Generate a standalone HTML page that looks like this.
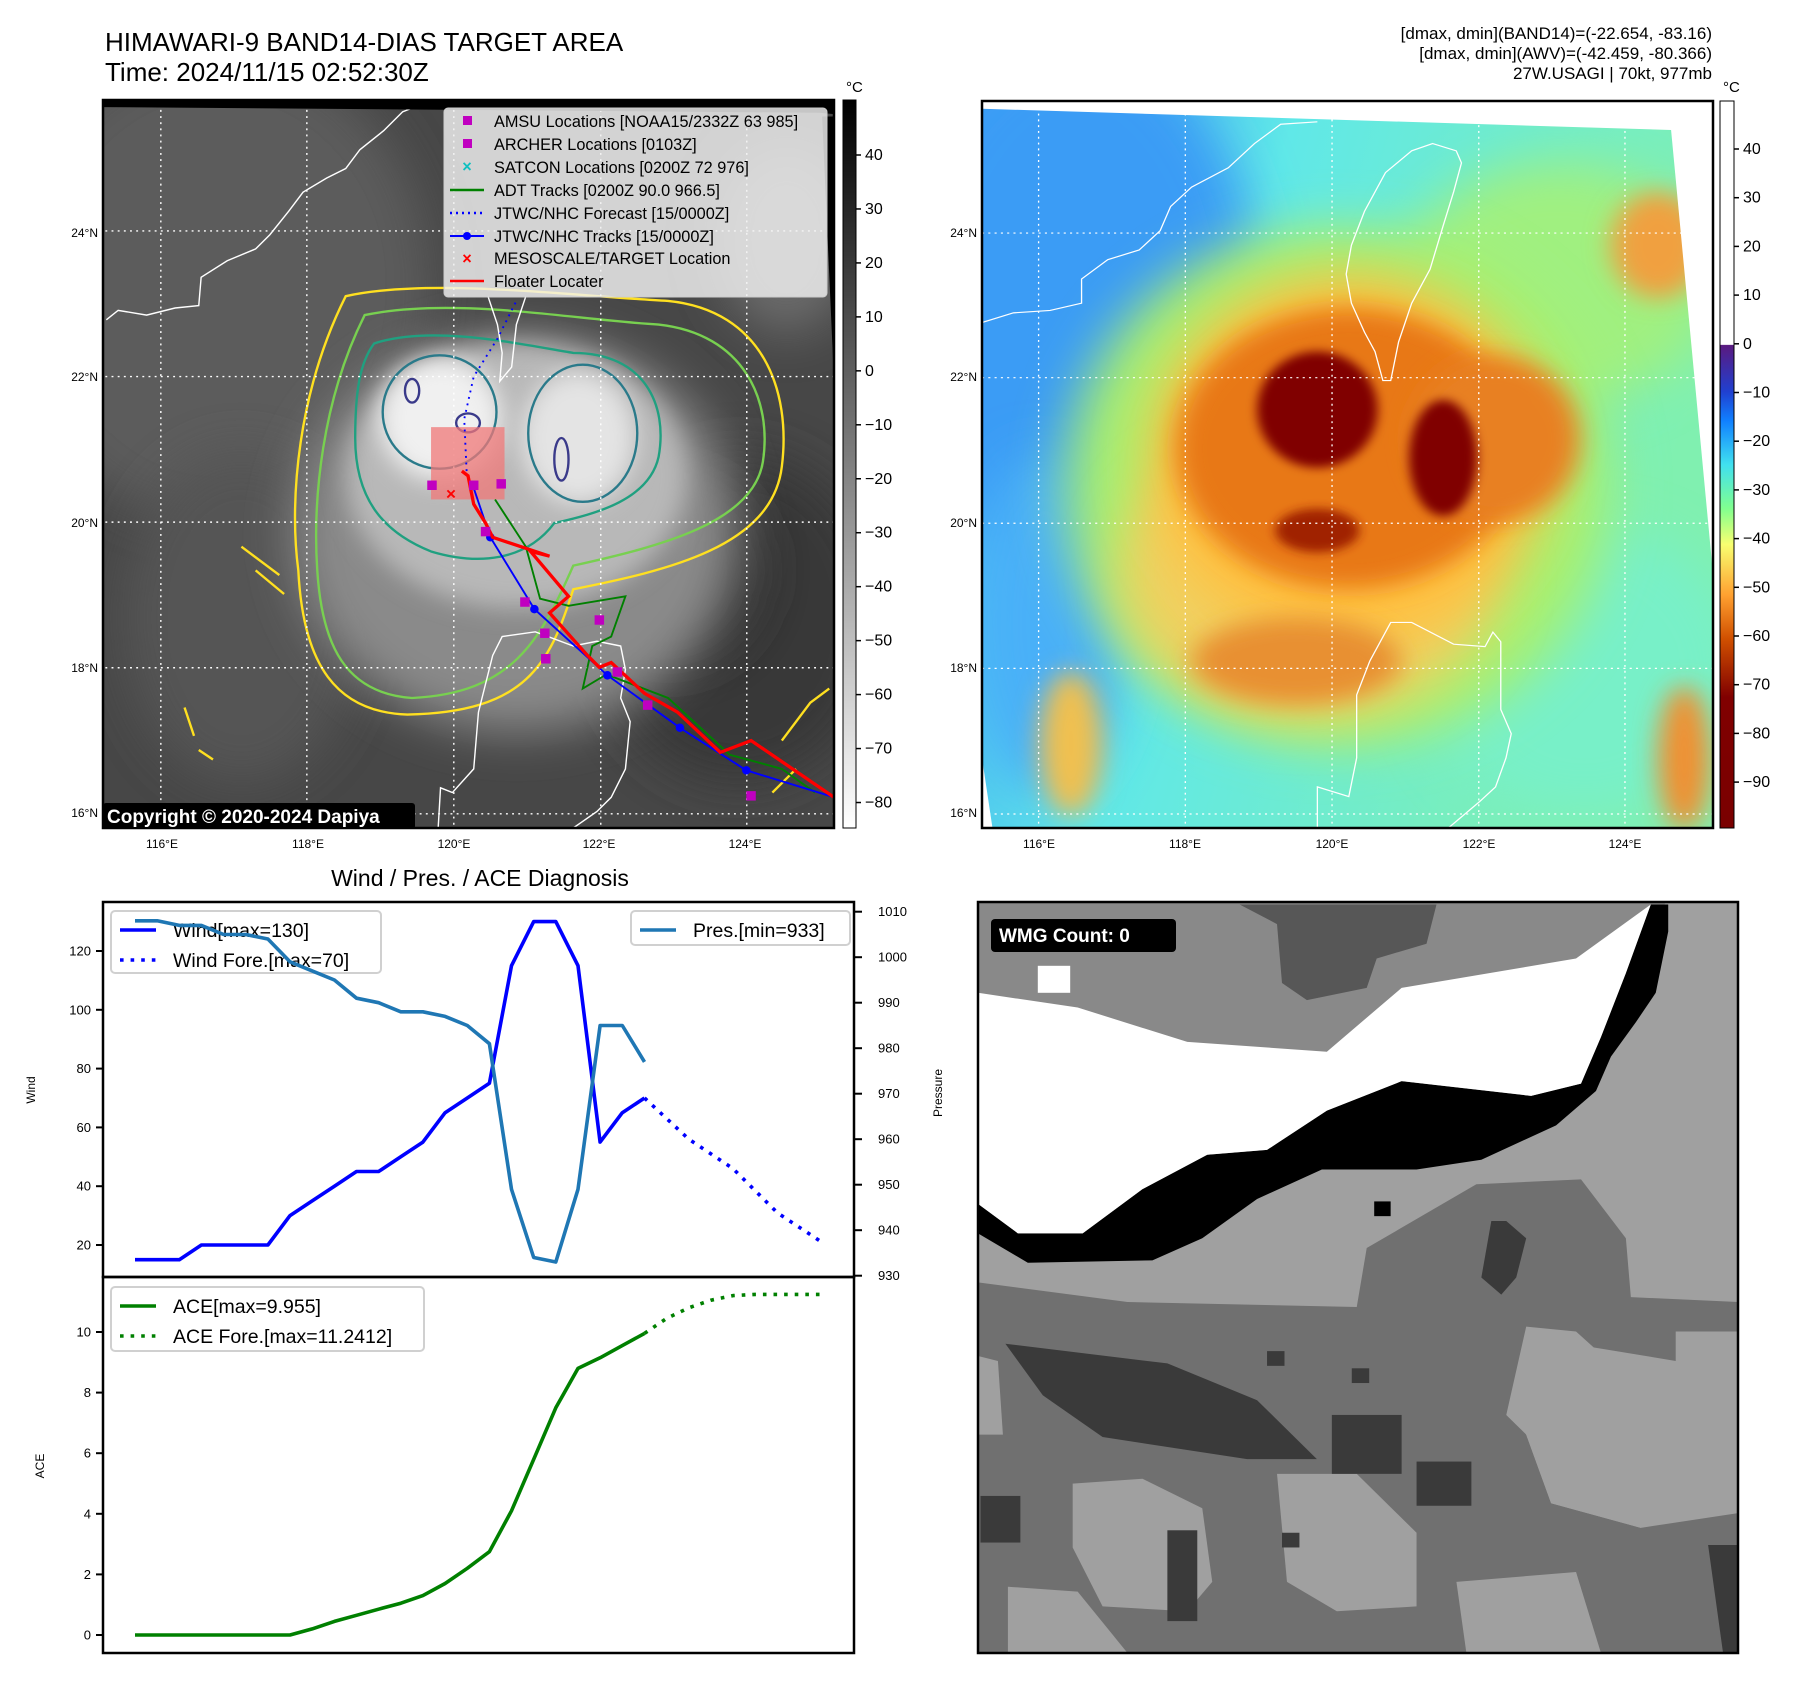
<!DOCTYPE html>
<html><head><meta charset="utf-8"><style>
html,body{margin:0;padding:0;background:#fff;}
svg{display:block;}
text{font-family:"Liberation Sans","DejaVu Sans",sans-serif;}
</style></head><body>
<svg id="fig" xmlns="http://www.w3.org/2000/svg" width="1797" height="1690" viewBox="0 0 1797 1690">
<defs>
  <filter id="b10" x="-50%" y="-50%" width="200%" height="200%"><feGaussianBlur stdDeviation="10"/></filter>
  <filter id="b25" x="-50%" y="-50%" width="200%" height="200%"><feGaussianBlur stdDeviation="25"/></filter>
  <filter id="b50" x="-50%" y="-50%" width="200%" height="200%"><feGaussianBlur stdDeviation="50"/></filter>
  <linearGradient id="cb1" x1="0" y1="0" x2="0" y2="1"><stop offset="0" stop-color="#000"/><stop offset="1" stop-color="#fff"/></linearGradient>
  <linearGradient id="cb2" x1="0" y1="0" x2="0" y2="1">
    <stop offset="0" stop-color="#fff"/><stop offset="0.335" stop-color="#fff"/>
    <stop offset="0.336" stop-color="#5a1a80"/><stop offset="0.40" stop-color="#2040d0"/>
    <stop offset="0.44" stop-color="#1080ff"/><stop offset="0.50" stop-color="#40e0f0"/>
    <stop offset="0.56" stop-color="#80ff90"/><stop offset="0.61" stop-color="#f8ff70"/>
    <stop offset="0.68" stop-color="#ffa030"/><stop offset="0.74" stop-color="#d05000"/>
    <stop offset="0.82" stop-color="#800000"/><stop offset="1" stop-color="#7a0000"/>
  </linearGradient>
  <linearGradient id="bg2" x1="0" y1="0" x2="1" y2="0.3"><stop offset="0" stop-color="#3aa0f5"/><stop offset="0.4" stop-color="#60e8e8"/><stop offset="1" stop-color="#80f0b0"/></linearGradient>
  <clipPath id="c1"><rect x="8" y="5" width="1542" height="1540"/></clipPath>
  <clipPath id="c2"><rect x="0" y="22" width="1395" height="1503"/></clipPath>
</defs>

<!-- Titles -->
<text x="105" y="51" font-size="26">HIMAWARI-9 BAND14-DIAS TARGET AREA</text>
<text x="105" y="81" font-size="26">Time: 2024/11/15 02:52:30Z</text>
<g font-size="17" text-anchor="end">
<text x="1712" y="39">[dmax, dmin](BAND14)=(-22.654, -83.16)</text>
<text x="1712" y="59">[dmax, dmin](AWV)=(-42.459, -80.366)</text>
<text x="1712" y="79">27W.USAGI | 70kt, 977mb</text>
</g>

<!-- MAP 1 -->
<svg x="103" y="100" width="731" height="728" viewBox="8 5 1542 1540" preserveAspectRatio="none">
 <g clip-path="url(#c1)">
  <rect x="0" y="0" width="1600" height="1600" fill="#474747"/>
  <ellipse cx="250" cy="400" rx="450" ry="500" fill="#5c5c5c" filter="url(#b50)"/>
  <ellipse cx="300" cy="1100" rx="250" ry="350" fill="#555" filter="url(#b50)"/>
  <ellipse cx="1350" cy="1100" rx="300" ry="350" fill="#383838" filter="url(#b50)"/>
  <ellipse cx="1200" cy="1000" rx="200" ry="200" fill="#333" filter="url(#b50)"/>
  <ellipse cx="1450" cy="300" rx="150" ry="200" fill="#6a6a6a" filter="url(#b50)"/>
  <ellipse cx="880" cy="920" rx="470" ry="420" fill="#8a8a8a" filter="url(#b50)"/>
  <ellipse cx="880" cy="800" rx="360" ry="280" fill="#b8b8b8" filter="url(#b25)"/>
  <ellipse cx="720" cy="680" rx="130" ry="130" fill="#f0f0f0" filter="url(#b25)"/>
  <ellipse cx="1010" cy="720" rx="120" ry="140" fill="#e4e4e4" filter="url(#b25)"/>
  <g fill="none" stroke-width="5">
   <path d="M520,420 C700,380 1000,420 1200,430 C1400,450 1460,620 1440,780 C1420,950 1200,1000 1000,1040 C950,1200 900,1300 650,1305 C500,1300 430,1200 420,1000 C400,850 420,620 520,420Z" stroke="#ffe020"/>
   <path d="M560,460 C750,420 1000,470 1180,480 C1360,500 1420,640 1400,770 C1380,900 1180,950 1000,990 C930,1150 870,1260 660,1270 C520,1260 470,1160 460,1000 C450,850 470,640 560,460Z" stroke="#78d050"/>
   <path d="M580,520 C700,480 880,520 1000,540 C1150,540 1200,650 1180,760 C1160,850 1050,880 960,900 C900,980 800,990 700,960 C600,920 540,850 540,720 C540,620 550,560 580,520Z" stroke="#20a080"/>
   <ellipse cx="718" cy="665" rx="120" ry="120" stroke="#2a7a8a"/>
   <ellipse cx="1020" cy="710" rx="115" ry="145" stroke="#2a7a8a"/>
   <ellipse cx="778" cy="688" rx="25" ry="20" stroke="#3a3a8a"/>
   <ellipse cx="975" cy="765" rx="15" ry="45" stroke="#3a3a8a"/>
   <ellipse cx="660" cy="620" rx="15" ry="25" stroke="#3a3a8a"/>
   <path d="M180,1290 l20,60 M210,1380 l30,20 M300,950 l80,60 M330,1000 l60,50" stroke="#ffe020"/>
   <path d="M1440,1360 l60,-80 l40,-30 M1420,1470 l50,-50" stroke="#ffe020"/>
  </g>
  <g fill="none" stroke="#fff" stroke-width="3">
   <polyline points="15,470 40,450 100,460 160,445 210,440 215,380 270,345 330,320 360,290 400,240 430,200 480,170 520,150 550,110 600,70 640,30 690,10"/>
   <polyline points="820,420 840,480 850,540 845,600 870,570 880,480 900,420"/>
   <polyline points="715,1545 720,1460 745,1470 790,1420 800,1300 830,1180 850,1140 920,1130 1000,1160 1050,1150 1100,1160 1110,1210 1100,1270 1120,1320 1110,1420 1080,1480 1050,1510 1000,1545"/>
  </g>
  <g stroke="#fff" stroke-width="3" stroke-dasharray="4,9">
   <line x1="130" y1="0" x2="130" y2="1550"/><line x1="438" y1="0" x2="438" y2="1550"/><line x1="748" y1="0" x2="748" y2="1550"/><line x1="1058" y1="0" x2="1058" y2="1550"/><line x1="1366" y1="0" x2="1366" y2="1550"/>
   <line x1="0" y1="282" x2="1560" y2="282"/><line x1="0" y1="590" x2="1560" y2="590"/><line x1="0" y1="898" x2="1560" y2="898"/><line x1="0" y1="1206" x2="1560" y2="1206"/><line x1="0" y1="1515" x2="1560" y2="1515"/>
  </g>
  <rect x="700" y="697" width="155" height="153" fill="#f07878" opacity="0.75"/>
  <polyline points="835,850 900,950 930,1060 990,1075 1110,1055 1080,1140 1040,1160 1020,1250 1070,1220 1200,1270 1330,1390 1440,1420 1510,1470" fill="none" stroke="#008000" stroke-width="4"/>
  <polyline points="775,790 770,680 790,590 840,510 880,430" fill="none" stroke="#0000ff" stroke-width="4" stroke-dasharray="4,10"/>
  <polyline points="788,820 825,930 918,1082 1072,1222 1225,1333 1365,1423 1550,1480" fill="none" stroke="#0000ff" stroke-width="4"/>
  <g fill="#0000ff"><circle cx="788" cy="820" r="9"/><circle cx="825" cy="930" r="9"/><circle cx="918" cy="1082" r="9"/><circle cx="1072" cy="1222" r="9"/><circle cx="1225" cy="1333" r="9"/><circle cx="1365" cy="1423" r="9"/></g>
  <polyline points="765,790 778,800 790,860 815,900 830,930 950,970 910,960 990,1055 950,1090 1030,1180 1055,1205 1080,1195 1150,1260 1220,1300 1310,1385 1375,1360 1550,1480" fill="none" stroke="#ff0000" stroke-width="7"/>
  <g fill="#c000c0">
   <rect x="692" y="810" width="20" height="20"/><rect x="780" y="810" width="20" height="20"/><rect x="838" y="807" width="20" height="20"/><rect x="805" y="908" width="20" height="20"/><rect x="888" y="1057" width="20" height="20"/><rect x="930" y="1123" width="20" height="20"/><rect x="932" y="1177" width="20" height="20"/><rect x="1045" y="1095" width="20" height="20"/><rect x="1083" y="1205" width="20" height="20"/><rect x="1147" y="1275" width="20" height="20"/><rect x="1365" y="1467" width="20" height="20"/>
  </g>
  <text x="742" y="850" font-size="36" fill="#ff0000" text-anchor="middle" font-weight="bold">×</text>
  <polygon points="0,0 1600,0 1600,40 1520,32 8,20" fill="#000"/>
  <polygon points="1525,40 1600,40 1600,1600 1550,600" fill="#000"/>
 </g>
</svg>
<rect x="103" y="100" width="731" height="728" fill="none" stroke="#000" stroke-width="2.5"/>

<g>
<rect x="444" y="108" width="383" height="189" rx="4" fill="#f2f2f2" fill-opacity="0.82" stroke="#ccc"/>
<g font-size="16.3" fill="#000">
<rect x="463" y="116" width="9" height="9" fill="#c000c0"/><text x="494" y="127">AMSU Locations [NOAA15/2332Z 63 985]</text>
<rect x="463" y="139" width="9" height="9" fill="#c000c0"/><text x="494" y="150">ARCHER Locations [0103Z]</text>
<text x="467" y="172" fill="#10c0c0" text-anchor="middle" font-weight="bold">×</text><text x="494" y="173">SATCON Locations [0200Z 72 976]</text>
<line x1="450" y1="190" x2="484" y2="190" stroke="#008000" stroke-width="2.5"/><text x="494" y="196">ADT Tracks [0200Z 90.0 966.5]</text>
<line x1="450" y1="213" x2="484" y2="213" stroke="#0000ff" stroke-width="2.5" stroke-dasharray="2,4"/><text x="494" y="219">JTWC/NHC Forecast [15/0000Z]</text>
<line x1="450" y1="236" x2="484" y2="236" stroke="#0000ff" stroke-width="2"/><circle cx="467" cy="236" r="4" fill="#0000ff"/><text x="494" y="242">JTWC/NHC Tracks [15/0000Z]</text>
<text x="467" y="264" fill="#ff0000" text-anchor="middle" font-weight="bold">×</text><text x="494" y="264">MESOSCALE/TARGET Location</text>
<line x1="450" y1="281" x2="484" y2="281" stroke="#ff0000" stroke-width="2.5"/><text x="494" y="287">Floater Locater</text>
</g></g>
<rect x="103" y="803" width="312" height="26" rx="3" fill="#000"/>
<text x="107" y="823" font-size="19" font-weight="bold" fill="#fff">Copyright © 2020-2024 Dapiya</text>

<rect x="843" y="100" width="13" height="728" fill="url(#cb1)" stroke="#000" stroke-width="1"/>
<text x="846" y="92" font-size="15">°C</text>
<g id="cb1ticks" font-size="16"></g>

<!-- MAP 2 -->
<svg x="982" y="101" width="731" height="727" viewBox="0 22 1395 1503" preserveAspectRatio="none">
 <g clip-path="url(#c2)">
  <rect x="0" y="0" width="1400" height="1600" fill="url(#bg2)"/>
  <ellipse cx="180" cy="450" rx="350" ry="550" fill="#3a9cf5" filter="url(#b50)"/>
  <ellipse cx="120" cy="1100" rx="150" ry="350" fill="#4ab0f8" filter="url(#b50)"/>
  <ellipse cx="1150" cy="1200" rx="300" ry="300" fill="#78f0c8" filter="url(#b50)"/>
  <ellipse cx="1100" cy="400" rx="300" ry="250" fill="#a0f080" filter="url(#b50)"/>
  <ellipse cx="1290" cy="320" rx="90" ry="110" fill="#f0a040" filter="url(#b25)"/>
  <ellipse cx="1340" cy="1380" rx="50" ry="150" fill="#f09030" filter="url(#b25)"/>
  <ellipse cx="170" cy="1350" rx="60" ry="150" fill="#f0c050" filter="url(#b25)"/>
  <ellipse cx="680" cy="820" rx="520" ry="540" fill="#a8f070" filter="url(#b50)"/>
  <ellipse cx="620" cy="1000" rx="360" ry="300" fill="#f0d060" filter="url(#b50)"/>
  <ellipse cx="700" cy="760" rx="380" ry="380" fill="#ffc040" filter="url(#b50)"/>
  <ellipse cx="700" cy="740" rx="330" ry="290" fill="#e87818" filter="url(#b25)"/>
  <ellipse cx="980" cy="720" rx="160" ry="170" fill="#e88020" filter="url(#b25)"/>
  <ellipse cx="600" cy="1180" rx="200" ry="90" fill="#e89030" filter="url(#b25)"/>
  <ellipse cx="640" cy="660" rx="115" ry="120" fill="#800000" filter="url(#b10)"/>
  <ellipse cx="880" cy="760" rx="65" ry="120" fill="#800000" filter="url(#b10)"/>
  <ellipse cx="640" cy="910" rx="80" ry="45" fill="#a02000" filter="url(#b10)"/>
  <g fill="none" stroke="#fff" stroke-width="2.5">
   <polyline points="0,480 60,460 130,455 190,440 190,390 240,350 300,330 340,290 360,240 400,200 470,160 520,110 570,70 640,65"/>
   <polygon points="860,110 905,125 915,150 900,210 880,280 855,370 820,440 795,520 780,600 765,600 750,540 730,500 705,440 695,380 705,320 730,250 770,170 820,125"/>
   <polyline points="640,1525 640,1440 700,1460 715,1380 715,1250 740,1180 780,1100 820,1100 900,1145 960,1150 975,1120 990,1140 990,1280 1010,1330 1000,1380 980,1440 950,1470 890,1525"/>
  </g>
  <g stroke="#fff" stroke-width="2.5" stroke-dasharray="4,8">
   <line x1="108" y1="0" x2="108" y2="1600"/><line x1="388" y1="0" x2="388" y2="1600"/><line x1="668" y1="0" x2="668" y2="1600"/><line x1="948" y1="0" x2="948" y2="1600"/><line x1="1227" y1="0" x2="1227" y2="1600"/>
   <line x1="0" y1="295" x2="1400" y2="295"/><line x1="0" y1="594" x2="1400" y2="594"/><line x1="0" y1="895" x2="1400" y2="895"/><line x1="0" y1="1195" x2="1400" y2="1195"/><line x1="0" y1="1496" x2="1400" y2="1496"/>
  </g>
  <polygon points="0,0 1400,0 1400,82 1315,82 0,38" fill="#fff"/>
  <polygon points="1315,82 1400,82 1400,1600 1395,1000" fill="#fff"/>
  <polygon points="0,1380 20,1525 0,1525" fill="#fff"/>
 </g>
</svg>
<rect x="982" y="101" width="731" height="727" fill="none" stroke="#000" stroke-width="2.5"/>

<rect x="1720" y="101" width="14" height="727" fill="url(#cb2)" stroke="#000" stroke-width="1"/>
<text x="1723" y="92" font-size="15">°C</text>
<g id="cb2ticks" font-size="16"></g>

<g font-size="12">
<g text-anchor="end">
<text x="98" y="237">24°N</text><text x="98" y="381">22°N</text><text x="98" y="527">20°N</text><text x="98" y="672">18°N</text><text x="98" y="817">16°N</text>
<text x="977" y="237">24°N</text><text x="977" y="381">22°N</text><text x="977" y="527">20°N</text><text x="977" y="672">18°N</text><text x="977" y="817">16°N</text>
</g>
<g text-anchor="middle">
<text x="162" y="848">116°E</text><text x="308" y="848">118°E</text><text x="454" y="848">120°E</text><text x="599" y="848">122°E</text><text x="745" y="848">124°E</text>
<text x="1039" y="848">116°E</text><text x="1185" y="848">118°E</text><text x="1332" y="848">120°E</text><text x="1479" y="848">122°E</text><text x="1625" y="848">124°E</text>
</g></g>

<!-- Lower right WMG image -->
<svg x="978" y="902" width="760" height="751" viewBox="0 15 1525 1530" preserveAspectRatio="none">
 <rect x="0" y="0" width="1530" height="1560" fill="#a0a0a0"/>
 <polygon points="0,15 1380,15 1300,200 1200,330 600,340 0,330" fill="#898989"/>
 <polygon points="525,20 920,20 900,100 800,130 780,190 660,215 610,180 600,60" fill="#575757"/>
 <polygon points="0,790 300,830 760,840 780,720 1000,590 1210,580 1300,700 1310,820 1525,830 1525,890 1400,890 1400,950 1260,945 1200,890 1100,880 1060,1060 1100,1100 1150,1240 1330,1290 1525,1260 1525,1545 0,1545" fill="#707070"/>
 <g fill="#a0a0a0">
  <polygon points="190,1200 330,1190 450,1250 470,1400 420,1460 250,1450 190,1330"/>
  <polygon points="60,1410 200,1420 300,1545 60,1545"/>
  <polygon points="600,1180 760,1180 880,1300 880,1450 720,1460 620,1400"/>
  <polygon points="1100,900 1400,950 1330,1290 1150,1240 1100,1100"/>
  <polygon points="0,940 40,950 50,1100 0,1100"/>
  <polygon points="960,1400 1200,1380 1250,1545 980,1545"/>
 </g>
 <g fill="#3a3a3a">
  <polygon points="55,915 380,955 560,1030 680,1150 540,1150 250,1105 130,1020"/>
  <rect x="880" y="1155" width="110" height="90"/>
  <rect x="710" y="1060" width="140" height="120"/>
  <rect x="5" y="1225" width="80" height="95"/>
  <rect x="380" y="1295" width="60" height="185"/>
  <polygon points="1465,1325 1525,1325 1525,1545 1495,1545"/>
  <polygon points="1030,665 1060,665 1100,700 1080,780 1050,815 1010,780"/>
  <rect x="580" y="930" width="35" height="30"/><rect x="750" y="965" width="35" height="30"/><rect x="610" y="1300" width="35" height="30"/>
 </g>
 <polygon points="1350,20 1385,20 1385,75 1360,200 1320,260 1270,330 1240,400 1160,470 1010,540 880,560 690,560 560,620 450,700 350,745 100,750 0,690 0,630 80,690 210,690 330,600 460,530 580,520 700,440 850,380 1110,410 1210,385 1250,290 1300,160" fill="#000"/>
 <polygon points="0,200 200,230 420,300 700,320 850,190 1200,130 1350,20 1300,160 1250,290 1210,385 1110,410 850,380 700,440 580,520 460,530 330,600 210,690 80,690 0,630" fill="#fff"/>
 <rect x="120" y="145" width="65" height="55" fill="#fff"/>
 <rect x="795" y="625" width="33" height="30" fill="#000"/>
</svg>
<rect x="978" y="902" width="760" height="751" fill="none" stroke="#000" stroke-width="2.5"/>
<rect x="991" y="919" width="185" height="33" rx="4" fill="#000"/>
<text x="999" y="942" font-size="19" font-weight="bold" fill="#fff">WMG Count: 0</text>

<text x="480" y="886" font-size="23" text-anchor="middle">Wind / Pres. / ACE Diagnosis</text>
<g id="charts"></g>
</svg>

<script>
const windIdx = [0,1,2,3,4,5,6,7,8,9,10,11,12,13,14,15,16,17,18,19,20,21,22,23];
const windVals = [15,15,15,20,20,20,20,30,35,40,45,45,50,55,65,70,75,115,130,130,115,55,65,70];
const windFcstIdx = [23,25,27,29,31];
const windFcstVals = [70,56,46,31,21];
const presVals = [1008,1008,1007,1007,1005,1005,1004,999,997,995,991,990,988,988,987,985,981,949,934,933,949,985,985,977];
const aceVals = [0,0,0,0,0,0,0,0,0.2,0.45,0.65,0.85,1.05,1.3,1.7,2.2,2.75,4.1,5.8,7.5,8.8,9.15,9.55,9.955];
const aceFcstIdx = [23,24,25,26,27,28,31];
const aceFcstVals = [9.955,10.45,10.8,11.05,11.2,11.24,11.24];
const windTicks = [20,40,60,80,100,120];
const presTicks = [930,940,950,960,970,980,990,1000,1010];
const aceTicks = [0,2,4,6,8,10];
const cb1Ticks = [40,30,20,10,0,-10,-20,-30,-40,-50,-60,-70,-80];
const cb2Ticks = [40,30,20,10,0,-10,-20,-30,-40,-50,-60,-70,-80,-90];

const NS='http://www.w3.org/2000/svg';
const X0=103, X1=854, WT=902, WB=1277, AB=1653;
function xS(i){return 135+22.15*i;}
function yWind(v){return 951+(120-v)*2.94;}
function yPres(p){return 911.7+(1010-p)*4.55;}
function yAce(a){return 1635-a*30.3;}
function yCb1(v){return 155+(40-v)*5.396;}
function yCb2(v){return 149+(40-v)*4.87;}

function mk(tag, attrs, parent){const e=document.createElementNS(NS,tag);for(const k in attrs)e.setAttribute(k,attrs[k]);parent.appendChild(e);return e;}
const g=document.getElementById('charts');

let b1=mk('rect',{x:X0,y:WT,width:X1-X0,height:WB-WT,fill:'none',stroke:'#000','stroke-width':2.5},g);


let b2=mk('rect',{x:X0,y:WB,width:X1-X0,height:AB-WB,fill:'none',stroke:'#000','stroke-width':2.5},g);



function line(xs, ys, color, dash, name){
  const pts=xs.map((x,i)=>x.toFixed(1)+','+ys[i].toFixed(1)).join(' ');
  const a={points:pts,fill:'none',stroke:color,'stroke-width':3.6,'stroke-linejoin':'round'};
  if(dash){a['stroke-dasharray']=dash;}
  const p=mk('polyline',a,g);
  
  
}

function tick(x1,y,x2,lx,anchor,label,name){
  const t=mk('line',{x1:x1,y1:y,x2:x2,y2:y,stroke:'#000','stroke-width':2},g);
  
  
  const tx=mk('text',{x:lx,y:y+4.5,'font-size':13,'text-anchor':anchor},g);
  tx.textContent=label;
  
  
}
windTicks.forEach(v=>tick(X0-7,yWind(v),X0,X0-12,'end',String(v),'wind'));
presTicks.forEach(v=>tick(X1,yPres(v),X1+8,X1+24,'start',String(v),'pressure'));
aceTicks.forEach(v=>tick(X0-7,yAce(v),X0,X0-12,'end',String(v),'ace'));

function rotLabel(x,y,txt,name){
  const t=mk('text',{x:x,y:y,'font-size':12,'text-anchor':'middle',transform:'rotate(-90 '+x+' '+y+')'},g);
  t.textContent=txt;
  
  
}
rotLabel(35,1090,'Wind','wind-axis-title');
rotLabel(942,1093,'Pressure','pressure-axis-title');
rotLabel(44,1466,'ACE','ace-axis-title');

function legend(x,y,w,h,items,name){
  const lg=mk('g',{},g);
  
  
  mk('rect',{x:x,y:y,width:w,height:h,rx:4,fill:'#fff','fill-opacity':0.85,stroke:'#d0d0d0','stroke-width':2},lg);
  items.forEach((it,i)=>{
    const yy=y+19+i*30;
    const a={x1:x+9,y1:yy,x2:x+45,y2:yy,stroke:it.c,'stroke-width':3.6};
    if(it.d)a['stroke-dasharray']='3.6,7';
    mk('line',a,lg);
    const t=mk('text',{x:x+62,y:yy+7,'font-size':19.5},lg);
    t.textContent=it.t;
  });
}
legend(111,911,270,62,[{c:'#0000ff',t:'Wind[max=130]'},{c:'#0000ff',t:'Wind Fore.[max=70]',d:1}],'wind-legend');
legend(631,911,219,34,[{c:'#1f77b4',t:'Pres.[min=933]'}],'pressure-legend');
legend(111,1287,313,64,[{c:'#008000',t:'ACE[max=9.955]'},{c:'#008000',t:'ACE Fore.[max=11.2412]',d:1}],'ace-legend');

line(windIdx.map(xS), windVals.map(yWind), '#0000ff', null, 'wind-line');
line(windFcstIdx.map(xS), windFcstVals.map(yWind), '#0000ff', '3.6,7', 'wind-forecast-line');
line(windIdx.map(xS), presVals.map(yPres), '#1f77b4', null, 'pressure-line');
line(windIdx.map(xS), aceVals.map(yAce), '#008000', null, 'ace-line');
line(aceFcstIdx.map(xS), aceFcstVals.map(yAce), '#008000', '3.6,7', 'ace-forecast-line');

const c1=document.getElementById('cb1ticks');
cb1Ticks.forEach(v=>{
  const y=yCb1(v);
  mk('line',{x1:856,y1:y,x2:861,y2:y,stroke:'#000','stroke-width':1.5},c1);
  const t=mk('text',{x:865,y:y+5},c1);
  t.textContent=v<0?'\u2212'+Math.abs(v):String(v);
});
const c2=document.getElementById('cb2ticks');
cb2Ticks.forEach(v=>{
  const y=yCb2(v);
  mk('line',{x1:1734,y1:y,x2:1739,y2:y,stroke:'#000','stroke-width':1.5},c2);
  const t=mk('text',{x:1743,y:y+5},c2);
  t.textContent=v<0?'\u2212'+Math.abs(v):String(v);
});
</script>
</body></html>
